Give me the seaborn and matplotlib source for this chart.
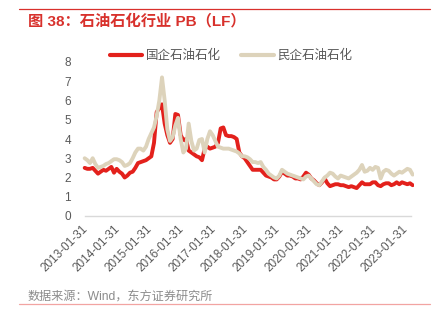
import matplotlib
matplotlib.use("Agg")
import matplotlib.pyplot as plt
import seaborn as sns
import pandas as pd
from matplotlib.lines import Line2D

# ---------------- data (monthly) ----------------
tick_labels = ["2013-01-31", "2014-01-31", "2015-01-31", "2016-01-31", "2017-01-31",
               "2018-01-31", "2019-01-31", "2020-01-31", "2021-01-31", "2022-01-31",
               "2023-01-31"]

soe = [  # 国企石油石化
    2.5, 2.45, 2.45, 2.5, 2.35, 2.2, 2.3, 2.4, 2.35, 2.45, 2.55, 2.25,
    2.45, 2.3, 2.2, 2.0, 2.1, 2.25, 2.3, 2.5, 2.75, 2.8, 2.85, 2.9,
    3.0, 3.1, 3.8, 5.4, 5.6, 5.8, 4.8, 4.2, 3.8, 4.0, 5.3, 5.25,
    4.2, 3.95, 4.0, 3.4, 3.3, 3.2, 3.1, 3.05, 2.9, 3.5, 3.6, 3.5,
    3.55, 3.6, 3.8, 4.55, 4.6, 4.2, 4.15, 4.15, 4.1, 4.0, 3.3, 3.1,
    3.0, 2.8, 2.6, 2.4, 2.4, 2.4, 2.4, 2.25, 2.1, 2.05, 2.0, 1.9,
    1.9, 2.05, 2.3, 2.2, 2.1, 2.1, 2.05, 1.95, 1.95, 1.9, 2.05, 2.25,
    2.15, 1.95, 1.85, 1.7, 1.6, 1.75, 1.95, 1.7, 1.55, 1.6, 1.65, 1.65,
    1.6, 1.6, 1.55, 1.5, 1.55, 1.5, 1.45, 1.6, 1.75, 1.65, 1.65, 1.65,
    1.75, 1.75, 1.6, 1.55, 1.65, 1.7, 1.7, 1.6, 1.65, 1.75, 1.65, 1.75,
    1.7, 1.65, 1.7, 1.6,
]
private = [  # 民企石油石化
    3.0, 2.9, 2.75, 3.0, 2.7, 2.5, 2.55, 2.6, 2.7, 2.75, 2.85, 2.95,
    2.95, 2.9, 2.8, 2.6, 2.65, 2.75, 3.0, 3.3, 3.5, 3.5, 3.4, 3.6,
    4.0, 4.3, 4.6, 5.2, 6.0, 7.2, 6.0, 4.5, 3.9, 4.1, 4.7, 5.1,
    4.0, 3.3, 3.5, 4.8, 3.9, 3.4, 3.5, 3.95, 4.0, 3.3, 4.0, 4.4,
    4.2, 3.9, 3.6, 3.55, 3.5, 3.5, 3.5, 3.45, 3.4, 3.35, 3.25, 3.1,
    3.1, 3.05, 2.95, 2.8, 2.8, 2.75, 2.8, 2.55, 2.4, 2.2, 2.1, 2.0,
    1.95, 2.1, 2.4, 2.3, 2.2, 2.15, 2.1, 2.05, 2.0, 1.95, 1.9, 2.05,
    2.1, 1.95, 1.8, 1.65, 1.6, 1.8, 2.0, 2.1, 2.25, 2.2, 2.05, 1.95,
    2.1, 2.05, 2.0, 1.95, 2.05, 2.15, 2.25, 2.4, 2.65, 2.3, 2.35, 2.5,
    2.4, 2.55, 2.5, 1.95, 2.3, 2.4, 2.35, 2.2, 2.1, 2.2, 2.3, 2.25,
    2.35, 2.45, 2.4, 2.15,
]
series_names = ["国企石油石化", "民企石油石化"]
colors = ["#e3211c", "#ddd3bb"]

# month index: 0 = 2013-01-31, data starts 2013-02
idx = list(range(1, len(soe) + 1))
df = pd.concat([
    pd.DataFrame({"m": idx, "PB": soe, "series": series_names[0]}),
    pd.DataFrame({"m": idx, "PB": private, "series": series_names[1]}),
])

# ---------------- figure ----------------
sns.set_theme(style="white")
plt.rcParams["font.family"] = ["Liberation Sans", "Noto Sans CJK SC", "DejaVu Sans"]

W, H = 439, 328
fig = plt.figure(figsize=(W / 100, H / 100), dpi=100)
ax = fig.add_axes([82 / W, 1 - 216 / H, (414 - 82) / W, (216 - 62) / H])

sns.lineplot(data=df, x="m", y="PB", hue="series", hue_order=series_names,
             palette=colors, linewidth=2.8, ax=ax, legend=False)

ax.set_xlim(0, 124.5)
ax.set_ylim(0, 8)
ax.set_yticks(range(0, 9))
ax.set_xticks([12 * i for i in range(len(tick_labels))])
ax.set_xticklabels(tick_labels, rotation=45, ha="right", va="top",
                   rotation_mode="anchor")
ax.tick_params(axis="x", length=0, pad=5, labelsize=8.5, colors="#595959")
ax.tick_params(axis="y", length=0, pad=8, labelsize=8.5, colors="#595959")
ax.set_xlabel("")
ax.set_ylabel("")
for s in ["top", "right", "left"]:
    ax.spines[s].set_visible(False)
ax.spines["bottom"].set_color("#d9d9d9")
ax.spines["bottom"].set_linewidth(1.0)
ax.spines["bottom"].set_bounds(1, 123.3)
ax.grid(False)

handles = [Line2D([], [], color=c, lw=3) for c in colors]
fig.legend(handles, series_names, loc="center", bbox_to_anchor=(231 / W, 1 - 56 / H),
           ncol=2, frameon=False, fontsize=9, handlelength=2.6, handletextpad=0.3,
           columnspacing=1.6, labelcolor="#595959")

# title, source, rules
fig.text(28 / W, 1 - 21 / H, "图 38：石油石化行业 PB（LF）", color="#d8312c",
         fontsize=11, fontweight="bold", ha="left", va="center")
fig.text(28 / W, 1 - 297 / H, "数据来源：Wind，东方证券研究所", color="#8c8c8c",
         fontsize=8.7, ha="left", va="center")
fig.add_artist(Line2D([19 / W, 430 / W], [1 - 9 / H, 1 - 9 / H], color="#d9302c", lw=0.9))
fig.add_artist(Line2D([19 / W, 430 / W], [1 - 304 / H, 1 - 304 / H], color="#f2a4a2", lw=0.9))

fig.savefig("out.png", dpi=100)
